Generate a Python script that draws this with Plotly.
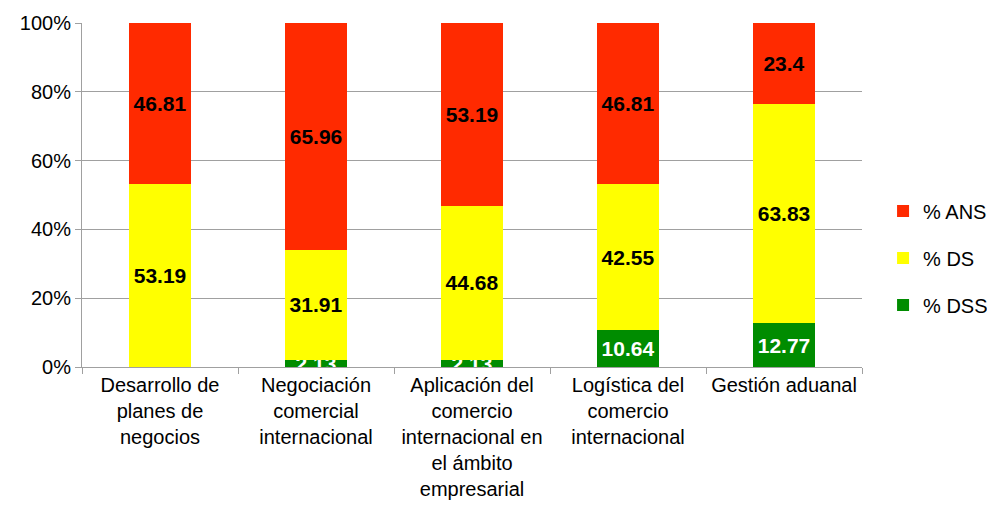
import plotly.graph_objects as go

categories = [
    "Desarrollo de<br>planes de<br>negocios",
    "Negociación<br>comercial<br>internacional",
    "Aplicación del<br>comercio<br>internacional en<br>el ámbito<br>empresarial",
    "Logística del<br>comercio<br>internacional",
    "Gestión aduanal",
]
dss = [0, 2.13, 2.13, 10.64, 12.77]
ds = [53.19, 31.91, 44.68, 42.55, 63.83]
ans = [46.81, 65.96, 53.19, 46.81, 23.4]

series = [
    ("% DSS", dss, "#008C00", "white", 3),
    ("% DS", ds, "#FFFF00", "black", 2),
    ("% ANS", ans, "#FF2A00", "black", 1),
]

fig = go.Figure()
for name, vals, color, tcolor, rank in series:
    fig.add_trace(go.Bar(
        x=categories, y=vals, name=name, legendgroup=name, legendrank=rank,
        marker=dict(color=color, line=dict(width=0)),
        text=[f"{v:g}" for v in vals],
        textposition="inside", insidetextanchor="middle",
        constraintext="none", cliponaxis=True,
        textfont=dict(family="Liberation Sans, Arial", size=21, color=tcolor),
        texttemplate="<b>%{text}</b>",
    ))

fig.update_layout(
    barmode="stack", bargap=0.6,
    width=987, height=498,
    margin=dict(l=74, r=133, t=15, b=139, autoexpand=False),
    paper_bgcolor="white", plot_bgcolor="white",
    font=dict(family="Liberation Sans, Arial", size=20, color="black"),
    legend=dict(traceorder="grouped", tracegroupgap=18,
                x=1.027, xanchor="left", y=0.317, yanchor="middle",
                bgcolor="rgba(0,0,0,0)", font=dict(size=20)),
    xaxis=dict(showline=True, linecolor="#A0A0A0", linewidth=1, automargin=False,
               ticks="outside", tickson="boundaries", ticklen=6, tickcolor="#A0A0A0",
               tickangle=0),
    yaxis=dict(range=[0, 100], dtick=20, ticksuffix="%", automargin=False,
               showline=True, linecolor="#A0A0A0", linewidth=1,
               ticks="outside", ticklen=6, tickcolor="#A0A0A0",
               gridcolor="#A0A0A0", gridwidth=1, zeroline=False),
)

fig.write_html("out.html")
